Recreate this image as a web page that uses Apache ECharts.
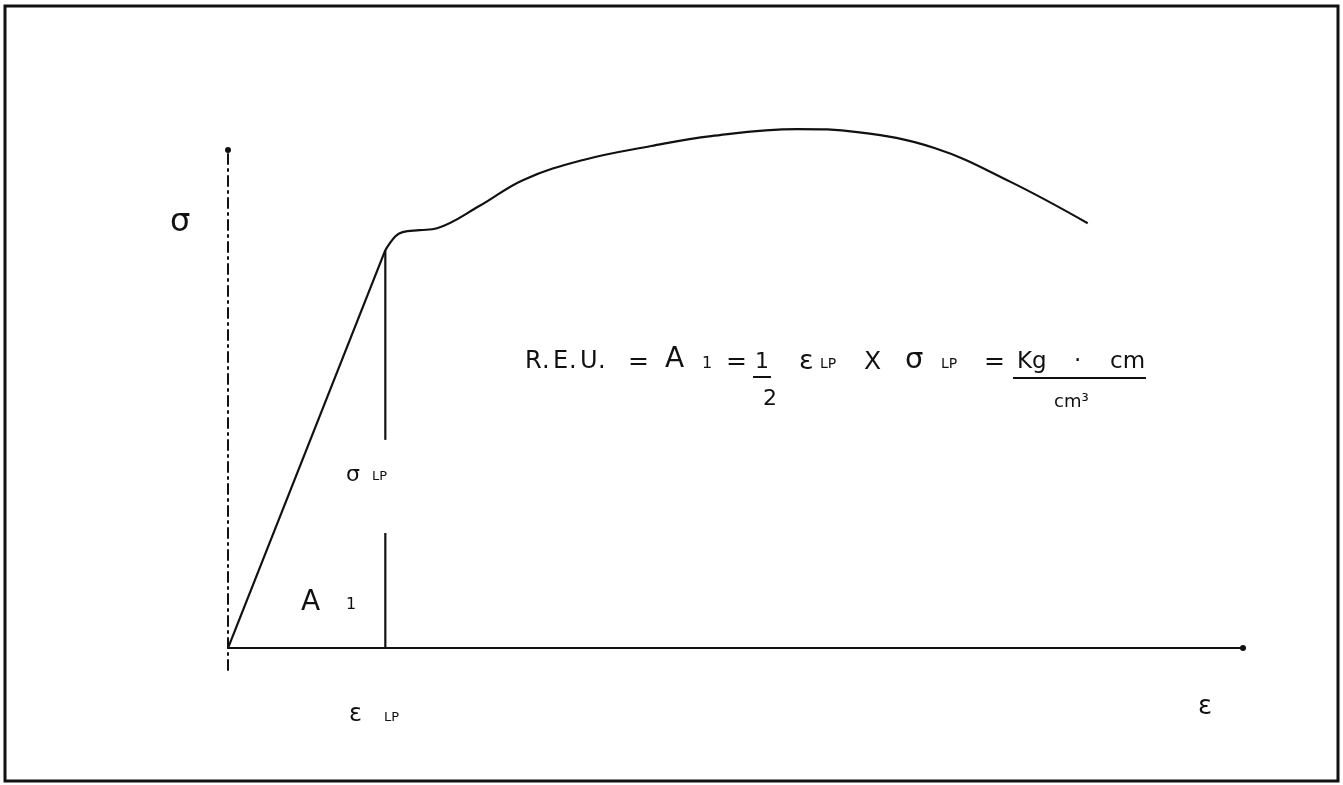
<!DOCTYPE html>
<html>
<head>
<meta charset="utf-8">
<script src="https://cdn.jsdelivr.net/npm/echarts@6/dist/echarts.min.js"></script>
<style>
html,body{margin:0;padding:0;background:#fff;}
#c{width:1343px;height:785px;}
</style>
</head>
<body>
<div id="c"></div>
<script>
// Elastic (straight) part of the stress-strain curve
const elasticStrain = [0, 15.5];
const elasticStress = [0, 79.9];
// Plastic part (smooth)
const plasticStrain = [15.5, 16.5, 17.2, 18.9, 20.6, 24.8, 29.1, 35.0, 41.7, 47.6, 56.1, 62.0, 69.6, 77.1, 84.7];
const plasticStress = [79.9, 82.7, 83.5, 83.9, 84.3, 88.8, 94.0, 98.0, 100.8, 102.8, 104.2, 103.6, 100.4, 93.6, 85.3];
// Limit of proportionality
const lpStrain = 15.5;
const lpStress = 79.9;
const lpLabelGap = [23.1, 41.8];

const FONT = 'DejaVu Sans';
const chart = echarts.init(document.getElementById('c'));

function pairs(xs, ys){ return xs.map((x,i)=>[x, ys[i]]); }

function txt(x, y, s, size){
  return {type:'text', x:x, y:y, style:{text:s, fontFamily:FONT, fontSize:size, fill:'#111', textVerticalAlign:'middle'}};
}
function ln(x1,y1,x2,y2,w){
  return {type:'line', shape:{x1:x1,y1:y1,x2:x2,y2:y2}, style:{stroke:'#111', lineWidth:w||2}};
}

const option = {
  backgroundColor:'#fff',
  animation:false,
  grid:{left:228, right:100, top:150, bottom:115},
  xAxis:{type:'value', min:0, max:100,
    axisLine:{onZero:true, symbol:['none','circle'], symbolSize:[6,6], lineStyle:{color:'#111', width:2}},
    axisTick:{show:false}, axisLabel:{show:false}, splitLine:{show:false}},
  yAxis:{type:'value', min:-4.4, max:100,
    axisLine:{show:true, symbol:['none','circle'], symbolSize:[6,6], lineStyle:{color:'#111', width:2, type:[10,5,2,5]}},
    axisTick:{show:false}, axisLabel:{show:false}, splitLine:{show:false}},
  series:[
    {type:'line', name:'elastic', data:pairs(elasticStrain, elasticStress), showSymbol:false, clip:false,
      lineStyle:{color:'#111', width:2.2}},
    {type:'line', name:'plastic', data:pairs(plasticStrain, plasticStress), showSymbol:false, clip:false, smooth:0.4,
      lineStyle:{color:'#111', width:2.2}},
    {type:'line', name:'lp-lower', data:[[lpStrain,0],[lpStrain,lpLabelGap[0]]], showSymbol:false,
      lineStyle:{color:'#111', width:2.2}},
    {type:'line', name:'lp-upper', data:[[lpStrain,lpLabelGap[1]],[lpStrain,lpStress]], showSymbol:false,
      lineStyle:{color:'#111', width:2.2}}
  ],
  graphic:[
    {type:'rect', shape:{x:5, y:6, width:1333, height:775}, style:{fill:'none', stroke:'#111', lineWidth:3}},
    // axis labels
    txt(170, 223, 'σ', 32),
    txt(1198, 707, 'ε', 26),
    // sigma LP
    txt(346, 475, 'σ', 22),
    txt(372, 477, 'LP', 13),
    // A1
    txt(301, 603, 'A', 28),
    txt(346, 605, '1', 16),
    // epsilon LP
    txt(349, 715, 'ε', 24),
    txt(384, 718, 'LP', 13),
    // formula
    txt(525, 362, 'R', 24),
    txt(542, 362, '.', 24),
    txt(553, 362, 'E', 24),
    txt(569, 362, '.', 24),
    txt(580, 362, 'U', 24),
    txt(598, 362, '.', 24),
    txt(628, 362, '=', 25),
    txt(665, 360, 'A', 28),
    txt(702, 364, '1', 16),
    txt(726, 362, '=', 25),
    txt(755, 362, '1', 22),
    ln(753, 377, 771, 377, 2),
    txt(763, 399, '2', 22),
    txt(799, 362, 'ε', 27),
    txt(820, 364, 'LP', 14),
    txt(864, 362, 'X', 25),
    txt(905, 360, 'σ', 29),
    txt(941, 364, 'LP', 14),
    txt(984, 362, '=', 25),
    txt(1017, 362, 'Kg', 23),
    txt(1074, 362, '·', 23),
    txt(1110, 362, 'cm', 23),
    ln(1013, 378, 1146, 378, 2),
    txt(1054, 402, 'cm³', 18)
  ]
};
chart.setOption(option);
</script>
</body>
</html>
